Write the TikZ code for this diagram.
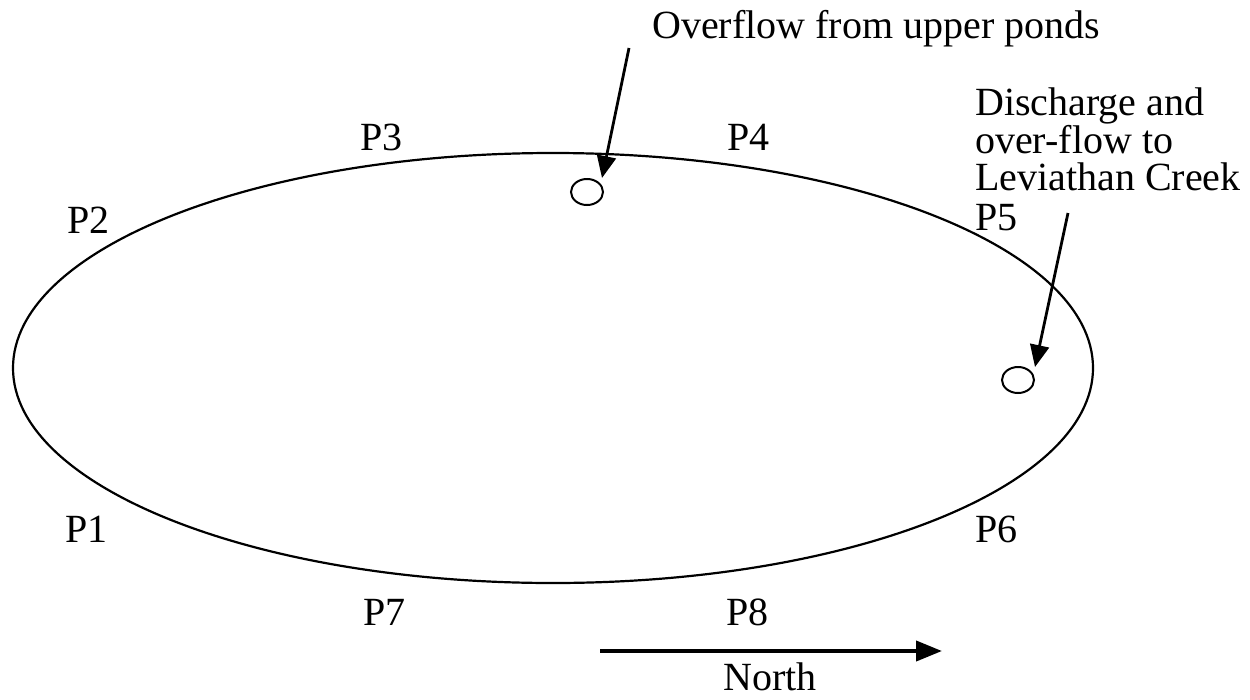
\documentclass[tikz,border=0pt]{standalone}
\usepackage{fontspec}
\setmainfont{Liberation Serif}
\usetikzlibrary{arrows.meta,shapes.geometric}

\tikzset{
  lbl/.style={inner sep=0pt, anchor=base west, font=\fontsize{40}{37.5}\selectfont},
  pond/.style={draw, ellipse, line width=2pt, minimum width=32pt, minimum height=26pt, inner sep=0pt},
  flow/.style={line width=2.8pt, -{Triangle[length=22pt,width=19pt]}}
}

\begin{document}
\begin{tikzpicture}[x=1pt,y=-1pt]
\useasboundingbox (0,0) rectangle (1250,699);
% Draw the pond outline
\draw[line width=2.2pt] (553,368) ellipse [x radius=540, y radius=215];
% Inlet and outlet
\node[pond] (inlet) at (587,192) {};
\node[pond] (outlet) at (1018,380) {};
\coordinate (inSrc) at (629,48);
\coordinate (inTip) at (602,178);
\coordinate (outSrc) at (1068,213);
\coordinate (outTip) at (1035,367);
\draw[flow] (inSrc) -- (inTip);
\draw[flow] (outSrc) -- (outTip);
\node[lbl] (inText) at (652,38) {Overflow from upper ponds};
\node[lbl, align=left, anchor=north west] (outText) at (975,88) {Discharge and\\over-flow to\\Leviathan Creek};
% Sample points
\node[lbl] (p1) at (65,542) {P1};
\node[lbl] (p2) at (67,233) {P2};
\node[lbl] (p3) at (360,150) {P3};
\node[lbl] (p4) at (727,150) {P4};
\node[lbl] (p5) at (975,230) {P5};
\node[lbl] (p6) at (975,542) {P6};
\node[lbl] (p7) at (363,625) {P7};
\node[lbl] (p8) at (726,625) {P8};
% North arrow
\coordinate (nStart) at (600,651);
\coordinate (nEnd) at (942,651);
\draw[line width=4pt, -{Triangle[length=26pt,width=20pt]}] (nStart) -- (nEnd);
\node[lbl, anchor=base] (north) at (770,690) {North};
\end{tikzpicture}
\end{document}
